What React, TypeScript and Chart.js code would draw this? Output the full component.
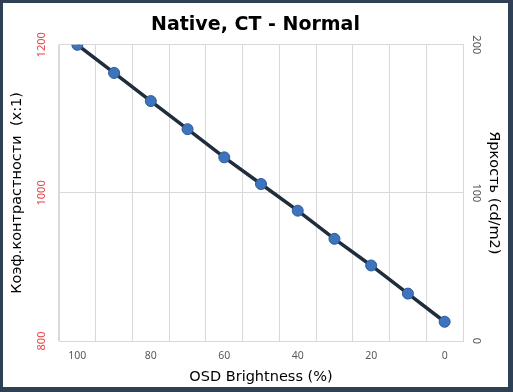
import React, { useEffect, useRef } from "react";
import { Chart, registerables } from "chart.js";

Chart.register(...registerables);

const chartTitle = "Native, CT - Normal";
const xLabels = ["100", "90", "80", "70", "60", "50", "40", "30", "20", "10", "0"];
const brightness = [200, 181, 162, 143, 124, 106, 88, 69, 51, 32, 13];
const contrastTicks = { min: 800, max: 1200, step: 200 };
const brightTicks = { min: 0, max: 200, step: 100 };
const xTitle = "OSD Brightness (%)";
const yLeftTitle = "Коэф.контрастности  (x:1)";
const yRightTitle = "Яркость (cd/m2)";

const FONT = "'Noto Sans', 'DejaVu Sans', sans-serif";
const TFONT = "'DejaVu Sans', sans-serif";
const GRID = "#d9d9d9";

export default function App() {
  const ref = useRef<HTMLCanvasElement>(null);
  useEffect(() => {
    if (!ref.current) return;
    const chart = new Chart(ref.current, {
      type: "line",
      data: {
        labels: xLabels,
        datasets: [
          {
            label: "Яркость",
            data: brightness,
            yAxisID: "y1",
            borderColor: "#1f2d3c",
            borderWidth: 3.5,
            pointRadius: 5.5,
            pointBackgroundColor: "#3d74bd",
            pointBorderColor: "#2c5a98",
            pointBorderWidth: 1,
            tension: 0,
          },
        ],
      },
      options: {
        responsive: false,
        animation: false,
        layout: { padding: 0 },
        plugins: {
          legend: { display: false },
          tooltip: { enabled: false },
          title: {
            display: true,
            text: chartTitle,
            color: "#000",
            font: { family: TFONT, size: 19, weight: "bold" },
            padding: { top: 11, bottom: 8 },
          },
        },
        scales: {
          x: {
            type: "category",
            offset: true,
            grid: { color: GRID, offset: true, drawTicks: false },
            border: { color: GRID },
            ticks: {
              color: "#595959",
              font: { family: FONT, size: 10.5 },
              padding: 9,
              autoSkip: false,
              maxRotation: 0,
              callback: (_v: any, i: number) => (i % 2 === 0 ? xLabels[i] : ""),
            },
            title: {
              display: true,
              text: xTitle,
              color: "#000",
              font: { family: TFONT, size: 14.5 },
              padding: { top: 4, bottom: 1 },
            },
            afterFit: (s: any) => {
              s.height = 46;
            },
          },
          y: {
            position: "left",
            min: contrastTicks.min,
            max: contrastTicks.max,
            grid: { color: GRID, drawTicks: false },
            border: { color: GRID },
            ticks: {
              stepSize: contrastTicks.step,
              color: "#e5484d",
              font: { family: FONT, size: 11 },
              minRotation: 90,
              maxRotation: 90,
              crossAlign: "center",
              padding: 5,
              callback: (v: any) => String(v),
            },
            title: {
              display: true,
              text: yLeftTitle,
              color: "#000",
              font: { family: TFONT, size: 14.5 },
              padding: { top: 6, bottom: 4 },
            },
            afterFit: (s: any) => {
              s.width = 56;
            },
          },
          y1: {
            position: "right",
            min: brightTicks.min,
            max: brightTicks.max,
            grid: { drawOnChartArea: false, drawTicks: false },
            border: { color: GRID },
            ticks: {
              stepSize: brightTicks.step,
              color: "#595959",
              font: { family: FONT, size: 11 },
              minRotation: -90,
              maxRotation: -90,
              crossAlign: "center",
              padding: 4,
              callback: (v: any) => String(v),
            },
            title: {
              display: true,
              text: yRightTitle,
              color: "#000",
              font: { family: TFONT, size: 14.5 },
              padding: { top: 6, bottom: 4 },
            },
            afterFit: (s: any) => {
              s.width = 45;
            },
          },
        },
      },
    });
    return () => chart.destroy();
  }, []);

  return (
    <div
      style={{
        position: "absolute",
        left: 0,
        top: 0,
        width: 513,
        height: 392,
        boxSizing: "border-box",
        borderStyle: "solid",
        borderColor: "#2e4053",
        borderWidth: "3px 5px 5px 3px",
        background: "#fff",
      }}
    >
      <canvas ref={ref} width={505} height={384} style={{ display: "block" }} />
    </div>
  );
}
